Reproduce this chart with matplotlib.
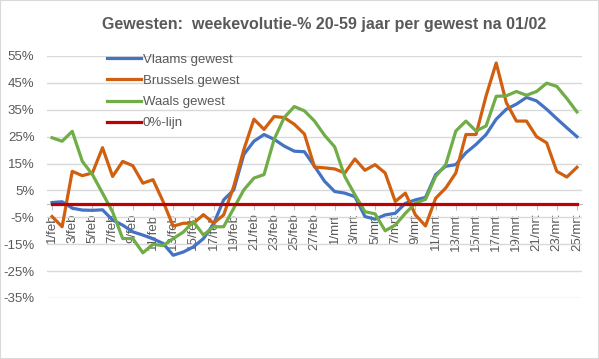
import matplotlib

matplotlib.use("Agg")
import matplotlib.pyplot as plt
from matplotlib.patches import Rectangle
import numpy as np

plt.rcParams["font.family"] = ["Liberation Sans", "DejaVu Sans"]

# one label per two days, 1/feb .. 25/mrt
DAYS = [f"{d}/feb" for d in range(1, 29)] + [f"{d}/mrt" for d in range(1, 26)]

VLAAMS = [0.5, 0.8, -1.6, -2.3, -2.4, -2.2, -6.0, -7.9, -10.4, -11.6,
          -13.0, -14.7, -19.1, -17.9, -16.0, -12.9, -7.5, 1.5, 5.2, 18.4,
          23.3, 25.8, 24.0, 21.5, 19.6, 19.4, 14.0, 8.4, 4.6, 4.0,
          2.7, -4.7, -5.7, -4.1, -3.5, 0.2, 1.5, 2.4, 10.9, 14.0,
          14.6, 19.0, 22.1, 25.8, 31.5, 35.2, 37.1, 39.6, 38.3, 35.2,
          31.7, 28.3, 25.0]
BRUSSELS = [-4.7, -8.5, 12.1, 10.5, 11.5, 20.9, 10.2, 15.8, 14.2, 7.7,
            9.0, 0.9, -8.3, -7.2, -7.2, -4.0, -7.2, -4.1, 6.5, 20.2,
            31.5, 27.7, 32.5, 32.1, 29.6, 26.0, 13.7, 13.4, 13.0, 11.5,
            16.7, 12.5, 14.6, 11.5, 0.9, 4.0, -4.1, -8.2, 2.1, 5.9,
            11.5, 25.8, 25.8, 40.2, 52.4, 37.7, 30.8, 30.8, 25.0, 22.7,
            12.1, 10.0, 13.6]
WAALS = [24.6, 23.3, 27.0, 15.8, 10.9, 4.0, -3.0, -12.9, -12.9, -18.2,
         -15.0, -15.5, -12.9, -10.5, -6.6, -11.6, -8.5, -8.5, -1.6, 5.2,
         9.6, 10.9, 24.0, 32.1, 36.2, 34.6, 30.8, 25.5, 21.2, 10.2,
         3.4, -2.9, -3.7, -10.0, -7.9, -3.5, 0.3, 1.7, 10.2, 14.6,
         27.1, 30.8, 27.1, 29.0, 40.0, 40.2, 41.8, 40.4, 41.8, 44.9,
         43.7, 39.2, 34.2]
NUL_LIJN = [0.0] * len(DAYS)

YTICKS = [-35, -25, -15, -5, 5, 15, 25, 35, 45, 55]
GREY = "#595959"

fig = plt.figure(figsize=(5.99, 3.59), dpi=100)
ax = fig.add_axes([47 / 599, 1 - 298 / 359, 535 / 599, 242 / 359])

x = np.arange(len(DAYS))
ax.plot(x, VLAAMS, color="#4472C4", lw=2.3, label="Vlaams gewest")
ax.plot(x, BRUSSELS, color="#D0600F", lw=2.3, label="Brussels gewest")
ax.plot(x, WAALS, color="#70AD47", lw=2.3, label="Waals gewest")
ax.plot(x, NUL_LIJN, color="#C00000", lw=2.3, label="0%-lijn", zorder=4)

# x-axis crosses at 0% (set before ticks: set_position resets them)
for s in ("top", "right", "left"):
    ax.spines[s].set_visible(False)
ax.spines["bottom"].set_position(("data", 0))
ax.spines["bottom"].set_color("#BFBFBF")

ax.set_xlim(-0.5, len(DAYS) - 0.5)
ax.set_ylim(-35, 55)
ax.set_yticks(YTICKS)
ax.set_yticklabels([f"{v}%" for v in YTICKS])
ax.yaxis.grid(True, color="#D9D9D9", lw=1.0)
ax.set_axisbelow(True)
ax.tick_params(axis="y", length=0, pad=9, labelsize=9.5, labelcolor=GREY)

ax.set_xticks(x[::2])
ax.set_xticklabels(DAYS[::2])
ax.tick_params(axis="x", length=4, color="#BFBFBF", pad=3, labelsize=9.5,
               labelcolor=GREY, labelrotation=90)

leg = ax.legend(loc="upper left", bbox_to_anchor=(100 / 599, 1 - 47 / 359),
                bbox_transform=fig.transFigure, frameon=False, fontsize=9.5,
                handlelength=2.6, handletextpad=0.15, labelspacing=0.68,
                borderpad=0)
for t in leg.get_texts():
    t.set_color(GREY)

fig.text(324 / 599, 1 - 25 / 359,
         "Gewesten:  weekevolutie-% 20-59 jaar per gewest na 01/02",
         ha="center", va="center", fontsize=11.5, fontweight="bold", color=GREY)

fig.patches.append(Rectangle((0, 0), 1, 1, transform=fig.transFigure,
                             fill=False, edgecolor="#D9D9D9", lw=1.5))

fig.savefig("out.png", dpi=100)
